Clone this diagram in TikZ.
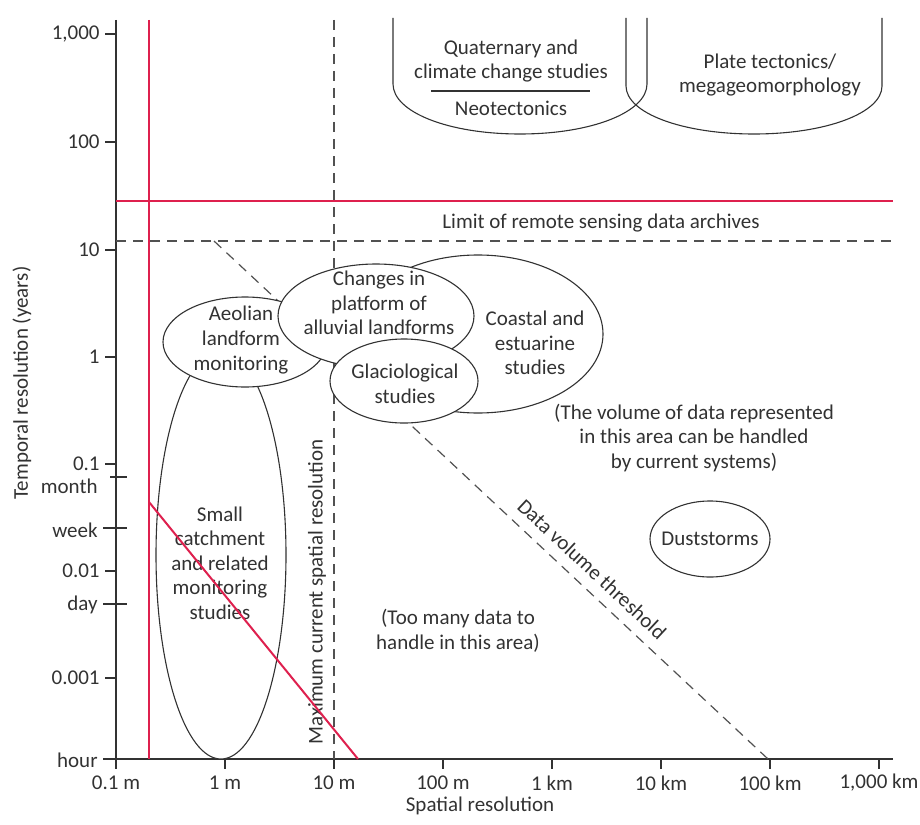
\documentclass[tikz,border=0pt]{standalone}
\usepackage{fontspec}
\setmainfont{Carlito}
\usetikzlibrary{shapes.geometric}
\definecolor{ink}{RGB}{50,50,50}
\definecolor{crimson}{RGB}{222,32,78}
\begin{document}
\begin{tikzpicture}[x=0.5pt,y=-0.5pt,
  every node/.style={text=ink, font=\fontsize{10.5}{12.3}\selectfont, inner sep=0pt},
  axisline/.style={draw=ink, line width=0.65pt},
  tickline/.style={draw=ink, line width=0.6pt},
  redline/.style={draw=crimson, line width=1pt},
  dashline/.style={draw=ink!85, line width=0.6pt, dash pattern=on 5pt off 3.5pt},
  oval/.style={ellipse, draw=ink, line width=0.55pt, fill=white, inner sep=0pt},
  txt/.style={align=center},
  ulabel/.style={anchor=east},
]
\useasboundingbox (0,0) rectangle (920,824);

% --- axes ---------------------------------------------------------------
\coordinate (ytop) at (116,20);
\coordinate (ybot) at (116,769);
\coordinate (xbeg) at (103,759);
\coordinate (xend) at (893,759);
\draw[axisline] (ytop) -- (ybot);
\draw[axisline] (xbeg) -- (xend);

% spatial ticks, one per decade
\foreach \k/\lab in {0/0.1 m,1/1 m,2/10 m,3/100 m,4/1 km,5/10 km,6/100 km,7/1{,}000 km}{
  \coordinate (xt\k) at ({116+109*\k},759);
  \coordinate (xb\k) at ({116+109*\k},769);
  \draw[tickline] (xt\k) -- (xb\k);
  \node (xl\k) at ({116+109*\k},783) {\lab};
}
\node (xtitle) at (480,806) {Spatial resolution};

% temporal ticks
\foreach \n/\y/\lab in {a/34/1{,}000,b/142/100,c/250/10,d/357/1,e/464/0.1,f/571/0.01,g/678/0.001}{
  \coordinate (yt\n) at (105,\y);
  \coordinate (ya\n) at (116,\y);
  \draw[tickline] (yt\n) -- (ya\n);
  \node[ulabel] (yl\n) at (100,\y) {\lab};
}
\foreach \n/\y/\x/\ly/\lab in {m/477/110/486/month,w/528/103/530/week,d/604/103/605/day}{
  \coordinate (ut\n) at (\x,\y);
  \coordinate (ue\n) at (127,\y);
  \draw[tickline] (ut\n) -- (ue\n);
  \node[ulabel] (ul\n) at (98,\ly) {\lab};
}
\node[ulabel] (ulh) at (98,760) {hour};
\node[rotate=90] (ytitle) at (22,383) {Temporal resolution (years)};

% --- limits ------------------------------------------------------------
\coordinate (lim-l) at (116,241);
\coordinate (lim-r) at (892,241);
\coordinate (res-t) at (334,20);
\coordinate (res-b) at (334,759);
\coordinate (thr-a) at (214,241);
\coordinate (thr-b) at (768,759);
\draw[dashline] (lim-l) -- (lim-r);
\draw[dashline] (res-t) -- (res-b);
\draw[dashline] (thr-a) -- (thr-b);

\node (limtxt) at (601,223) {Limit of remote sensing data archives};
\node[rotate=90] (restxt) at (317,592) {Maximum current spatial resolution};
\node[rotate=-43] (thrtxt) at (592,569) {Data volume threshold};

% --- long-term study domains (open-topped bowls) -----------------------
\draw[draw=ink, line width=0.55pt] (393,18) -- (393,84)
  .. controls (393,112) and (448,134) .. (520,134)
  .. controls (592,134) and (647,112) .. (647,84) -- (647,18);
\draw[draw=ink, line width=0.55pt] (626,18) -- (626,86)
  .. controls (626,113) and (682,134) .. (754,134)
  .. controls (826,134) and (882,113) .. (882,86) -- (882,18);
\node[txt] (quat) at (511,61) {Quaternary and\\climate change studies};
\coordinate (qrule-l) at (431,91);
\coordinate (qrule-r) at (590,91);
\draw[draw=ink, line width=0.55pt] (qrule-l) -- (qrule-r);
\node (neo) at (511,108) {Neotectonics};
\node[txt] (plate) at (770,75) {Plate tectonics/\\megageomorphology};

% --- study areas ------------------------------------------------------
\node[oval, minimum width=125pt, minimum height=79pt] (coast) at (478,334) {};
\node[oval, minimum width=65pt, minimum height=204pt] (catch) at (221,555) {};
\node[oval, minimum width=82pt, minimum height=45pt] (aeol) at (245,342) {};
\node[oval, minimum width=98pt, minimum height=52pt] (alluv) at (376,316) {};
\node[oval, minimum width=74pt, minimum height=42pt] (glac) at (404,381) {};
\node[oval, minimum width=60pt, minimum height=38pt] (dust) at (710,539) {};

\node[txt] (coasttxt) at (535,343) {Coastal and\\estuarine\\studies};
\node[txt] (catchtxt) at (220,563) {Small\\catchment\\and related\\monitoring\\studies};
\node[txt] (aeoltxt) at (241,340) {Aeolian\\landform\\monitoring};
\node[txt] (alluvtxt) at (379,303) {Changes in\\platform of\\alluvial landforms};
\node[txt] (glactxt) at (405,384) {Glaciological\\studies};
\node (dusttxt) at (dust.center) {Duststorms};

\node[txt] (volok) at (694,438) {(The volume of data represented\\in this area can be handled\\by current systems)};
\node[txt] (volhi) at (458,631) {(Too many data to\\handle in this area)};

% --- present-day sensing limits (red) ----------------------------------
\coordinate (rv-t) at (149,20);
\coordinate (rv-b) at (149,759);
\coordinate (rh-l) at (116,201);
\coordinate (rh-r) at (893,201);
\coordinate (rd-a) at (149,502);
\coordinate (rd-b) at (358,759);
\draw[redline] (rv-t) -- (rv-b);
\draw[redline] (rh-l) -- (rh-r);
\draw[redline] (rd-a) -- (rd-b);
\end{tikzpicture}
\end{document}
